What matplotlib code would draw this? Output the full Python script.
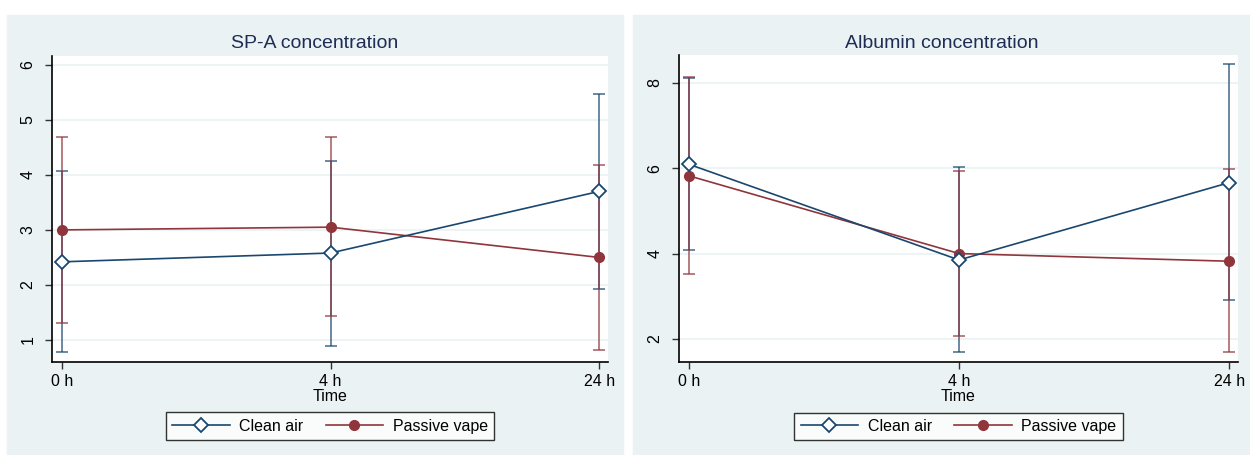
import matplotlib.pyplot as plt
from matplotlib.patches import Rectangle
from matplotlib.lines import Line2D

times = ['0 h', '4 h', '24 h']

spa_clean = [2.42, 2.58, 3.70]
spa_clean_lo = [0.79, 0.89, 1.93]
spa_clean_hi = [4.07, 4.26, 5.47]
spa_vape = [3.00, 3.05, 2.50]
spa_vape_lo = [1.31, 1.44, 0.81]
spa_vape_hi = [4.68, 4.69, 4.18]

alb_clean = [6.09, 3.85, 5.66]
alb_clean_lo = [4.08, 1.69, 2.91]
alb_clean_hi = [8.12, 6.02, 8.43]
alb_vape = [5.82, 4.00, 3.82]
alb_vape_lo = [3.52, 2.07, 1.69]
alb_vape_hi = [8.14, 5.94, 5.98]

navy = '#1a476f'
maroon = '#90353b'
panel_bg = '#eaf2f3'
title_col = '#1e2d55'

plt.rcParams['font.family'] = ['Liberation Sans', 'DejaVu Sans']

W, H = 1250, 455
fig = plt.figure(figsize=(W / 100, H / 100), dpi=100)


def px(x0, y0, x1, y1):
    # pixel box (top-left origin) -> figure fraction rect
    return [x0 / W, 1 - y1 / H, (x1 - x0) / W, (y1 - y0) / H]


def panel(box, ax_box, title, clean, clean_lo, clean_hi, vape, vape_lo, vape_hi,
          ylim, yticks):
    fig.patches.append(Rectangle((box[0], box[1]), box[2], box[3],
                                 transform=fig.transFigure, color=panel_bg, zorder=-5))
    ax = fig.add_axes(ax_box)
    x = range(len(times))
    for vals, lo, hi, col in [(clean, clean_lo, clean_hi, navy),
                              (vape, vape_lo, vape_hi, maroon)]:
        ax.errorbar(x, vals,
                    yerr=[[v - l for v, l in zip(vals, lo)],
                          [h - v for v, h in zip(vals, hi)]],
                    fmt='none', ecolor=col, alpha=0.75, elinewidth=1.2,
                    capsize=4, capthick=1.2, zorder=2)
    ax.plot(x, clean, color=navy, lw=1.2, marker='D', ms=7, mfc='white',
            mec=navy, mew=1.3, zorder=4)
    ax.plot(x, vape, color=maroon, lw=1.2, marker='o', ms=7, mfc=maroon,
            mec=maroon, zorder=3)
    ax.set_xlim(-0.037, 2.033)
    ax.set_ylim(*ylim)
    ax.set_xticks(list(x))
    ax.set_xticklabels(times, fontsize=11.5)
    ax.set_yticks(yticks)
    ax.set_yticklabels([str(t) for t in yticks], fontsize=11.5, rotation=90, va='center')
    ax.grid(axis='y', color=panel_bg, lw=1.2)
    ax.set_axisbelow(True)
    for s in ['top', 'right']:
        ax.spines[s].set_visible(False)
    for s in ['left', 'bottom']:
        ax.spines[s].set_linewidth(1.2)
    ax.tick_params(length=5, width=1.0, color='#333333')
    ax.tick_params(axis='y', pad=7)
    ax.set_xlabel('Time', fontsize=11.5, labelpad=0)
    fig.text(box[0] + box[2] / 2, 1 - 43 / H, title, ha='center', va='center',
             fontsize=14, color=title_col)
    handles = [Line2D([0], [0], color=navy, lw=1.2, marker='D', ms=7, mfc='white',
                      mec=navy, mew=1.3),
               Line2D([0], [0], color=maroon, lw=1.2, marker='o', ms=7, mfc=maroon,
                      mec=maroon)]
    leg = ax.legend(handles, ['Clean air', 'Passive vape'], ncol=2, loc='upper center',
                    bbox_to_anchor=(0.5, -0.165), fontsize=11.5, frameon=True,
                    fancybox=False, edgecolor='black', handlelength=3.6,
                    handletextpad=0.6, columnspacing=1.4, borderpad=0.4,
                    borderaxespad=0)
    leg.get_frame().set_linewidth(1.0)
    return ax


panel(px(7, 15, 623, 455), px(52, 56, 608, 362), 'SP-A concentration',
      spa_clean, spa_clean_lo, spa_clean_hi, spa_vape, spa_vape_lo, spa_vape_hi,
      (0.6, 6.16), [1, 2, 3, 4, 5, 6])
panel(px(633, 15, 1250, 455), px(679, 55, 1238, 362), 'Albumin concentration',
      alb_clean, alb_clean_lo, alb_clean_hi, alb_vape, alb_vape_lo, alb_vape_hi,
      (1.46, 8.65), [2, 4, 6, 8])

fig.savefig('out.png', dpi=100, facecolor='white')
